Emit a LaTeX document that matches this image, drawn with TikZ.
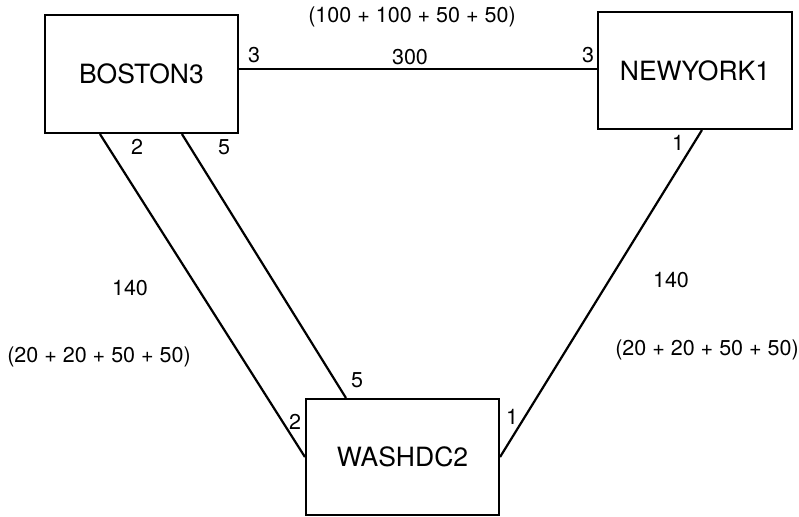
\documentclass[tikz,border=0pt]{standalone}
\usepackage{fontspec}
\setmainfont{TeX Gyre Heros}
\usepackage{tikz}

\tikzset{
  router/.style={draw, line width=2.1pt, inner sep=0pt},
  port/.style={inner sep=0pt, font=\fontsize{21.5}{25}\selectfont},
  link/.style={line width=2.2pt}
}

\begin{document}
\begin{tikzpicture}[x=1pt, y=-1pt]
\useasboundingbox (0,0) rectangle (799,516);
\node[router, minimum width=193pt, minimum height=118pt, font=\fontsize{26.5}{30}\selectfont] (boston) at (141.5,74) {BOSTON3};
\node[router, minimum width=194pt, minimum height=117pt, font=\fontsize{26.5}{30}\selectfont] (newyork) at (695,70.5) {NEWYORK1};
\node[router, minimum width=193pt, minimum height=116pt, font=\fontsize{26.5}{30}\selectfont] (washdc) at (402.5,457) {WASHDC2};
\draw[link] ([yshift=5pt]boston.east) -- ([yshift=1.5pt]newyork.west);
\draw[link] ([xshift=56pt]boston.south west) -- (washdc.west);
\draw[link] ([xshift=138pt]boston.south west) -- ([xshift=41pt]washdc.north west);
\draw[link] ([xshift=105pt]newyork.south west) -- (washdc.east);
\node[port] (bny) at (254,55) {3};
\node[port] (nyb) at (588,55) {3};
\node[port] (cost1) at (410,57) {300};
\node[port] (sum1) at (412,17) {(100 + 100 + 50 + 50)};
\node[port] (bw2) at (137,147) {2};
\node[port] (bw5) at (224,147) {5};
\node[port] (nyw) at (678,143) {1};
\node[port] (cost2) at (130,288) {140};
\node[port] (sum2) at (99,357) {(20 + 20 + 50 + 50)};
\node[port] (wb5) at (357,380) {5};
\node[port] (wb2) at (295,422) {2};
\node[port] (cost3) at (671,280) {140};
\node[port] (sum3) at (707,350) {(20 + 20 + 50 + 50)};
\node[port] (wny) at (512,417) {1};
\end{tikzpicture}
\end{document}
